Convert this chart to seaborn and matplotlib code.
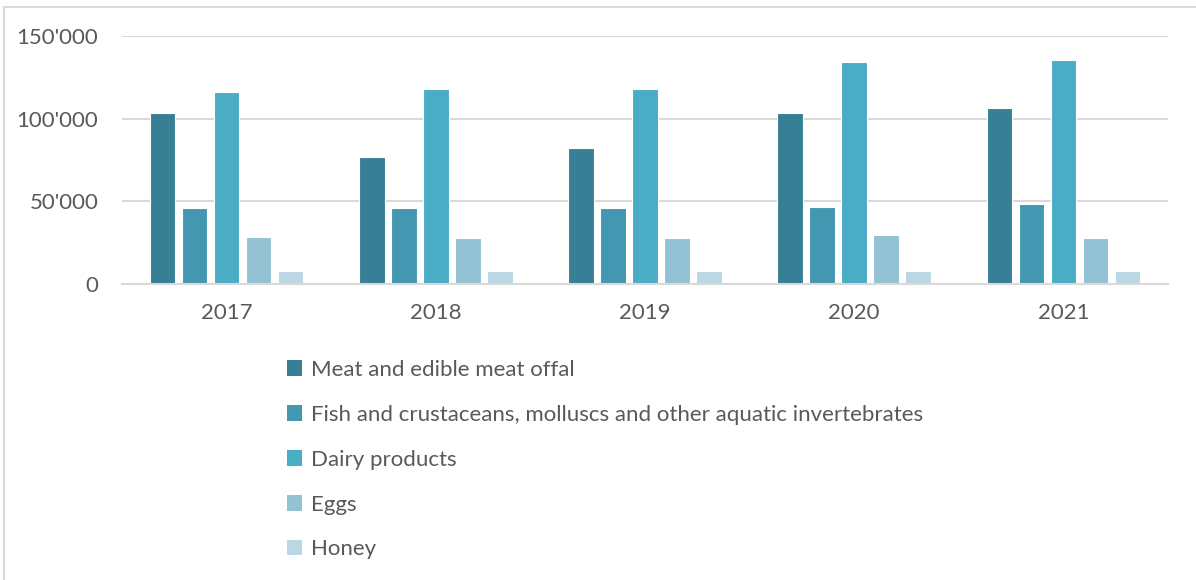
import numpy as np
import pandas as pd
import seaborn as sns
import matplotlib.pyplot as plt
from matplotlib.patches import Patch, Rectangle
from matplotlib.ticker import FuncFormatter

# Data
years = ["2017", "2018", "2019", "2020", "2021"]
categories = [
    "Meat and edible meat offal",
    "Fish and crustaceans, molluscs and other aquatic invertebrates",
    "Dairy products",
    "Eggs",
    "Honey",
]
meat = [103400, 76800, 82200, 103200, 106200]
fish = [46100, 46100, 45900, 46300, 48300]
dairy = [115900, 117700, 117700, 134300, 135300]
eggs = [28600, 28000, 28000, 29800, 28100]
honey = [8000, 8000, 8000, 8000, 8000]

colors = ["#367F95", "#4397B0", "#4BACC6", "#93C2D4", "#BBD7E3"]

# Long-form table for seaborn
df = pd.DataFrame({
    "year": np.repeat(years, len(categories)),
    "category": categories * len(years),
    "value": np.ravel(np.column_stack([meat, fish, dairy, eggs, honey])),
})

sns.set_theme(style="white")
plt.rcParams["font.family"] = ["Lato", "DejaVu Sans"]
text_color = "#595959"
grid_color = "#D9D9D9"

fig = plt.figure(figsize=(11.96, 5.8), dpi=100)
ax = fig.add_axes([122 / 1196, 1 - 284 / 580, (1168 - 122) / 1196, (284 - 36) / 580])

sns.barplot(
    data=df, x="year", y="value", hue="category", hue_order=categories,
    palette=colors, width=0.765, gap=0.2, saturation=1,
    edgecolor="white", linewidth=0.8, legend=False, ax=ax,
)

# Axes styling
ax.set_ylim(0, 150000)
ax.set_yticks([0, 50000, 100000, 150000])
ax.yaxis.set_major_formatter(FuncFormatter(lambda v, p: f"{int(v):,}".replace(",", "'")))
ax.grid(axis="y", color=grid_color, linewidth=1.5)
ax.set_axisbelow(True)
for side in ["left", "right", "top"]:
    ax.spines[side].set_visible(False)
ax.spines["bottom"].set_color(grid_color)
ax.spines["bottom"].set_linewidth(1.5)
ax.tick_params(axis="both", length=0, labelsize=16, labelcolor=text_color)
ax.tick_params(axis="y", pad=17)
ax.tick_params(axis="x", pad=14)
ax.set_xlabel("")
ax.set_ylabel("")

# Legend below the plot
handles = [Patch(facecolor=c, edgecolor="none") for c in colors]
fig.legend(
    handles, categories, loc="upper left", bbox_to_anchor=(278 / 1196, 1 - 351 / 580),
    frameon=False, fontsize=16, labelcolor=text_color, handlelength=0.7,
    handleheight=0.7, handletextpad=0.4, labelspacing=1.12, borderaxespad=0,
)

# Light frame around the chart area
fig.patches.append(Rectangle((4 / 1196, -0.05), 1.1, 1 - 7 / 580 + 0.05,
                             transform=fig.transFigure, fill=False,
                             edgecolor=grid_color, linewidth=1.5))

fig.savefig("out.png", dpi=100)
